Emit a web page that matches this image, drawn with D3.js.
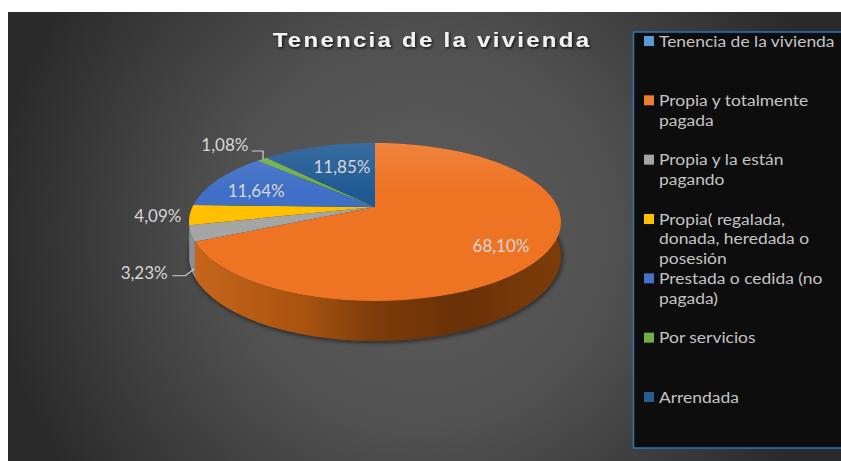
<!DOCTYPE html>
<html>
<head>
<meta charset="utf-8">
<script src="https://cdn.jsdelivr.net/npm/d3@7"></script>
<style>
  html, body { margin: 0; padding: 0; background: #fff; overflow: hidden; }
  text { font-family: Lato, "Open Sans", sans-serif; }
</style>
</head>
<body>
<div id="chart"></div>
<script>
var svgWidth = 841;
var svgHeight = 461;

// data
var title = "Tenencia de la vivienda";
var categories = ["Propia y totalmente pagada", "Propia y la están pagando", "Propia( regalada, donada, heredada o posesión", "Prestada o cedida (no pagada)", "Por servicios", "Arrendada"];
var values = [68.10, 3.23, 4.09, 11.64, 1.08, 11.85];
var valueLabels = ["68,10%", "3,23%", "4,09%", "11,64%", "1,08%", "11,85%"];
var sliceColors = ["#ee7424", "#a5a5a5", "#ffc000", "#3f6fc6", "#70ad47", "#205a94"];

// legend rows as they wrap in the picture
var legendRows = [
  ["Tenencia de la vivienda"],
  ["Propia y totalmente", "pagada"],
  ["Propia y la están", "pagando"],
  ["Propia( regalada,", "donada, heredada o", "posesión"],
  ["Prestada o cedida (no", "pagada)"],
  ["Por servicios"],
  ["Arrendada"]
];
var legendColors = ["#5b9bd5", "#ed7d31", "#a5a5a5", "#ffc000", "#4472c4", "#70ad47", "#255e91"];

var svg = d3.select("#chart")
  .append("svg")
  .attr("width", svgWidth)
  .attr("height", svgHeight)
  .style("display", "block");

var defs = svg.append("defs");

var bgGrad = defs.append("radialGradient")
  .attr("id", "bg")
  .attr("gradientUnits", "userSpaceOnUse")
  .attr("cx", 420).attr("cy", 235).attr("r", 430);
bgGrad.append("stop").attr("offset", "0").attr("stop-color", "#5e5e5e");
bgGrad.append("stop").attr("offset", "0.45").attr("stop-color", "#515151");
bgGrad.append("stop").attr("offset", "1").attr("stop-color", "#2a2a2a");

svg.append("rect")
  .attr("x", 8).attr("y", 12)
  .attr("width", svgWidth - 8).attr("height", svgHeight - 12)
  .attr("fill", "url(#bg)");

// the pie is a tilted disc, so the centre sits above the middle of the ellipse
var pieX = 375, pieY = 207;
var radiusX = 182.6, radiusY = 76.2, tilt = 0.19;

function project(a, r) {
  var u = Math.sin(a) * r, v = Math.cos(a) * r;
  var w = 1 + tilt * v;
  return { x: pieX + radiusX * u / w, y: pieY - radiusY * v / w, v: v };
}
function depth(v) { return 33 - 7 * v; }

var arcs = d3.pie().sort(null)(values);
var line = d3.line().x(d => d.x).y(d => d.y);

function arcPoints(d) {
  return d3.range(0, 61).map(i => project(d.startAngle + (d.endAngle - d.startAngle) * i / 60, 1));
}

// soft shadow under the disc
defs.append("filter").attr("id", "blur")
  .attr("x", "-10%").attr("y", "-10%").attr("width", "120%").attr("height", "120%")
  .append("feGaussianBlur").attr("stdDeviation", 2.5);

var outline = d3.range(0, 181).map(i => project(i / 180 * 2 * Math.PI, 1));
svg.append("path")
  .attr("d", line(outline.map(p => ({ x: p.x + 1, y: p.y + depth(p.v) + 1 }))) + "Z")
  .attr("fill", "#111")
  .attr("opacity", 0.75)
  .attr("filter", "url(#blur)");

// walls, only the two front slices show one
var wallStops = [
  [0, "#c7661c"], [0.3, "#a8530f"], [0.5, "#7c3b0a"], [0.72, "#693107"], [1, "#7d3d0a"]
];
var wallGrad = defs.append("linearGradient")
  .attr("id", "wall")
  .attr("gradientUnits", "userSpaceOnUse")
  .attr("x1", pieX - radiusX).attr("x2", pieX + radiusX + 4)
  .attr("y1", 0).attr("y2", 0);
wallGrad.selectAll("stop").data(wallStops).enter().append("stop")
  .attr("offset", d => d[0]).attr("stop-color", d => d[1]);

svg.append("g").selectAll("path")
  .data(arcs.slice(0, 2))
  .enter()
  .append("path")
  .attr("d", d => {
    var top = arcPoints(d);
    var bottom = top.map(p => ({ x: p.x, y: p.y + depth(p.v) })).reverse();
    return line(top.concat(bottom)) + "Z";
  })
  .attr("fill", (d, i) => i === 0 ? "url(#wall)" : "#8b8f96");

// top faces, a little lighter towards the back
arcs.forEach(function(d, i) {
  var g = defs.append("linearGradient")
    .attr("id", "top" + i)
    .attr("gradientUnits", "userSpaceOnUse")
    .attr("x1", 0).attr("x2", 0)
    .attr("y1", pieY - radiusY).attr("y2", pieY + radiusY);
  g.append("stop").attr("offset", "0").attr("stop-color", d3.interpolateRgb(sliceColors[i], "#fff")(0.14));
  g.append("stop").attr("offset", "0.4").attr("stop-color", sliceColors[i]);
  g.append("stop").attr("offset", "1").attr("stop-color", sliceColors[i]);
});

svg.append("g").selectAll("path")
  .data(arcs)
  .enter()
  .append("path")
  .attr("d", d => line([{ x: pieX, y: pieY }].concat(arcPoints(d))) + "Z")
  .attr("fill", (d, i) => "url(#top" + i + ")");

// data labels: radial fraction and offset from the slice middle
var labelSpots = [
  { r: 0.70, dx: 10, dy: 8 },
  { r: 1.22, dx: -3, dy: 33 },
  { r: 1.20, dx: 6, dy: 0 },
  { r: 0.67, dx: -11, dy: 3 },
  { r: 1.25, dx: -13, dy: -4 },
  { r: 0.60, dx: 3, dy: -1 }
];
function labelPos(d, i) {
  var p = project((d.startAngle + d.endAngle) / 2, labelSpots[i].r);
  return { x: p.x + labelSpots[i].dx, y: p.y + labelSpots[i].dy };
}

svg.append("g").selectAll("text")
  .data(arcs)
  .enter()
  .append("text")
  .attr("x", (d, i) => labelPos(d, i).x)
  .attr("y", (d, i) => labelPos(d, i).y)
  .attr("text-anchor", "middle")
  .attr("dy", "0.35em")
  .attr("font-size", 17)
  .attr("fill", "#d6d6d6")
  .text((d, i) => valueLabels[i]);

// leader lines for the two outside labels
var grayEnd = project(arcs[1].startAngle + 0.01, 1);
var greenEnd = project((arcs[4].startAngle + arcs[4].endAngle) / 2, 1);
var grayLabel = labelPos(arcs[1], 1);
var greenLabel = labelPos(arcs[4], 4);
svg.append("path")
  .attr("d", line([
    { x: grayLabel.x + 28, y: grayLabel.y + 3 },
    { x: grayLabel.x + 41, y: grayLabel.y + 3 },
    { x: grayEnd.x, y: grayEnd.y + depth(grayEnd.v) - 8 }
  ]))
  .attr("fill", "none").attr("stroke", "#d0d0d0").attr("stroke-width", 1.2);
svg.append("path")
  .attr("d", line([
    { x: greenLabel.x + 27, y: greenLabel.y + 6 },
    { x: greenEnd.x + 1, y: greenLabel.y + 6 },
    { x: greenEnd.x + 1, y: greenEnd.y }
  ]))
  .attr("fill", "none").attr("stroke", "#d0d0d0").attr("stroke-width", 1.2);

// title, wider than the plain bold face
defs.append("filter").attr("id", "titleShadow")
  .attr("x", "-5%").attr("y", "-30%").attr("width", "110%").attr("height", "170%")
  .append("feDropShadow")
  .attr("dx", 1).attr("dy", 1.5).attr("stdDeviation", 1.2)
  .attr("flood-color", "#000").attr("flood-opacity", 0.8);

svg.append("text")
  .attr("transform", "translate(432, 46.5) scale(1.2, 1)")
  .attr("text-anchor", "middle")
  .attr("font-size", 20)
  .attr("font-weight", "bold")
  .attr("letter-spacing", 1.9)
  .attr("fill", "#f2f2f2")
  .attr("filter", "url(#titleShadow)")
  .style("font-family", "'Liberation Sans', Arial, sans-serif")
  .text(title);

// legend
var legendGroup = svg.append("g");
legendGroup.append("rect")
  .attr("x", 633.5).attr("y", 32)
  .attr("width", 240).attr("height", 416)
  .attr("fill", "#0d0d0d")
  .attr("stroke", "#2e75b6")
  .attr("stroke-width", 1.5);

var legendY = d3.scaleLinear().domain([0, legendRows.length - 1]).range([41, 397]);

var rows = legendGroup.selectAll("g.row")
  .data(legendRows)
  .enter()
  .append("g")
  .attr("class", "row")
  .attr("transform", (d, i) => `translate(644, ${legendY(i)})`);

rows.append("rect")
  .attr("x", 0).attr("y", -5)
  .attr("width", 10).attr("height", 10)
  .attr("fill", (d, i) => legendColors[i]);

// legend text is squat in the picture, so a smaller size stretched sideways
rows.each(function(lines) {
  d3.select(this).selectAll("text")
    .data(lines)
    .enter()
    .append("text")
    .attr("transform", (d, j) => `translate(15, ${j * 19.7}) scale(1.09, 1)`)
    .attr("dy", "0.35em")
    .attr("font-size", 16)
    .attr("fill", "#c4c4c4")
    .text(d => d);
});
</script>
</body>
</html>
